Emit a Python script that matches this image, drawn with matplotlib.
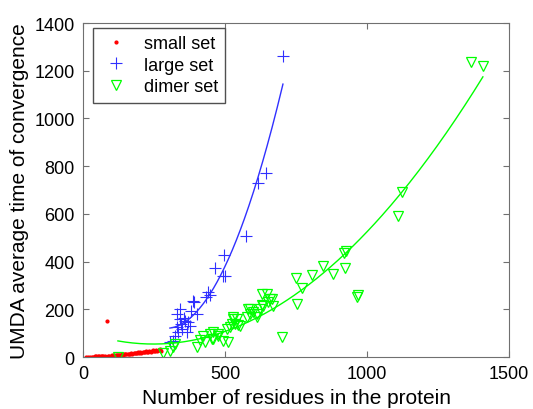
import numpy as np
import matplotlib
matplotlib.use("Agg")
import matplotlib.pyplot as plt

plt.rcParams['font.family'] = ['Liberation Sans', 'DejaVu Sans']

# small set (red dots)
small_x = [10, 18, 25, 30, 36, 42, 47, 52, 58, 63, 68, 72, 77, 83, 88, 92, 97, 101,
           106, 110, 115, 119, 123, 128, 132, 136, 140, 145, 149, 153, 157, 162, 166,
           170, 174, 178, 182, 186, 190, 194, 198, 202, 206, 210, 214, 218, 222, 226,
           230, 234, 238, 242, 246, 250, 254, 258, 262, 266, 270, 274]
small_y = [1, 1, 2, 2, 2, 3, 3, 3, 4, 4, 5, 4, 5, 151, 6, 5, 6, 7,
           6, 8, 7, 9, 8, 10, 9, 11, 10, 12, 11, 13, 12, 14, 13,
           15, 14, 16, 18, 15, 17, 19, 16, 20, 18, 22, 19, 21, 24, 20,
           23, 26, 22, 25, 28, 24, 27, 30, 26, 29, 32, 27]

# large set (blue plus)
large_x = [306, 317, 324, 330, 335, 330, 341, 345, 348, 340, 355, 359, 366, 370, 377,
           386, 391, 380, 401, 433, 439, 447, 465, 492, 500, 496, 575, 617, 646, 704]
large_y = [62, 67, 88, 126, 105, 180, 159, 140, 117, 200, 165, 151, 105, 146, 130,
           235, 230, 193, 180, 252, 272, 260, 372, 340, 340, 428, 508, 729, 771, 1262]

# dimer set (green triangles)
dimer_x = [123, 282, 306, 317, 324, 401, 412, 423, 430, 447, 454, 458, 458, 475, 475,
           493, 507, 510, 518, 525, 528, 528, 535, 542, 546, 553, 577, 581, 588, 588,
           599, 612, 612, 623, 630, 630, 634, 648, 651, 658, 665, 669, 700, 750, 754,
           771, 806, 845, 880, 919, 922, 926, 965, 968, 1109, 1123, 1366, 1408]
dimer_y = [0, 15, 25, 40, 54, 40, 70, 88, 63, 96, 75, 105, 75, 96, 88,
           67, 117, 63, 126, 138, 159, 168, 138, 159, 134, 130, 168, 201, 180, 201,
           188, 168, 180, 201, 264, 218, 214, 264, 230, 243, 243, 214, 84, 331, 222,
           289, 342, 381, 348, 436, 373, 444, 251, 260, 591, 692, 1236, 1220]

blue = '#3030ff'
green = '#00ff00'

fig = plt.figure(figsize=(5.33, 4.10), dpi=100)
ax = fig.add_axes([0.1557, 0.1268, 0.7993, 0.8146])

ax.plot(small_x, small_y, '.', color='r', markersize=4, label='small set')
ax.plot(large_x, large_y, '+', color=blue, markersize=8, markeredgewidth=0.8, label='large set')
ax.plot(dimer_x, dimer_y, 'v', color=green, markerfacecolor='none', markersize=7,
        markeredgewidth=0.9, label='dimer set')

# quadratic fits
for xs, ys, col in [(large_x, large_y, blue), (dimer_x, dimer_y, green)]:
    c = np.polyfit(xs, ys, 2)
    xx = np.linspace(min(xs), max(xs), 200)
    ax.plot(xx, np.polyval(c, xx), '-', color=col, linewidth=1)

ax.set_xlim(0, 1500)
ax.set_ylim(0, 1400)
ax.set_xticks([0, 500, 1000, 1500])
ax.set_yticks(range(0, 1401, 200))
ax.tick_params(direction='in', top=True, right=True, labelsize=13, color='#707070',
               length=4, pad=6)
for s in ax.spines.values():
    s.set_color('#707070')
ax.set_xlabel('Number of residues in the protein', fontsize=15, labelpad=4)
ax.set_ylabel('UMDA average time of convergence', fontsize=15, labelpad=4)

leg = ax.legend(loc='upper left', bbox_to_anchor=(0.0235, 0.985), borderaxespad=0,
                fontsize=13, fancybox=False, framealpha=1, edgecolor='#505050',
                handletextpad=0.6, handlelength=1.8, labelspacing=0.25)
leg.get_frame().set_linewidth(1)

fig.savefig('out.png', dpi=100)
